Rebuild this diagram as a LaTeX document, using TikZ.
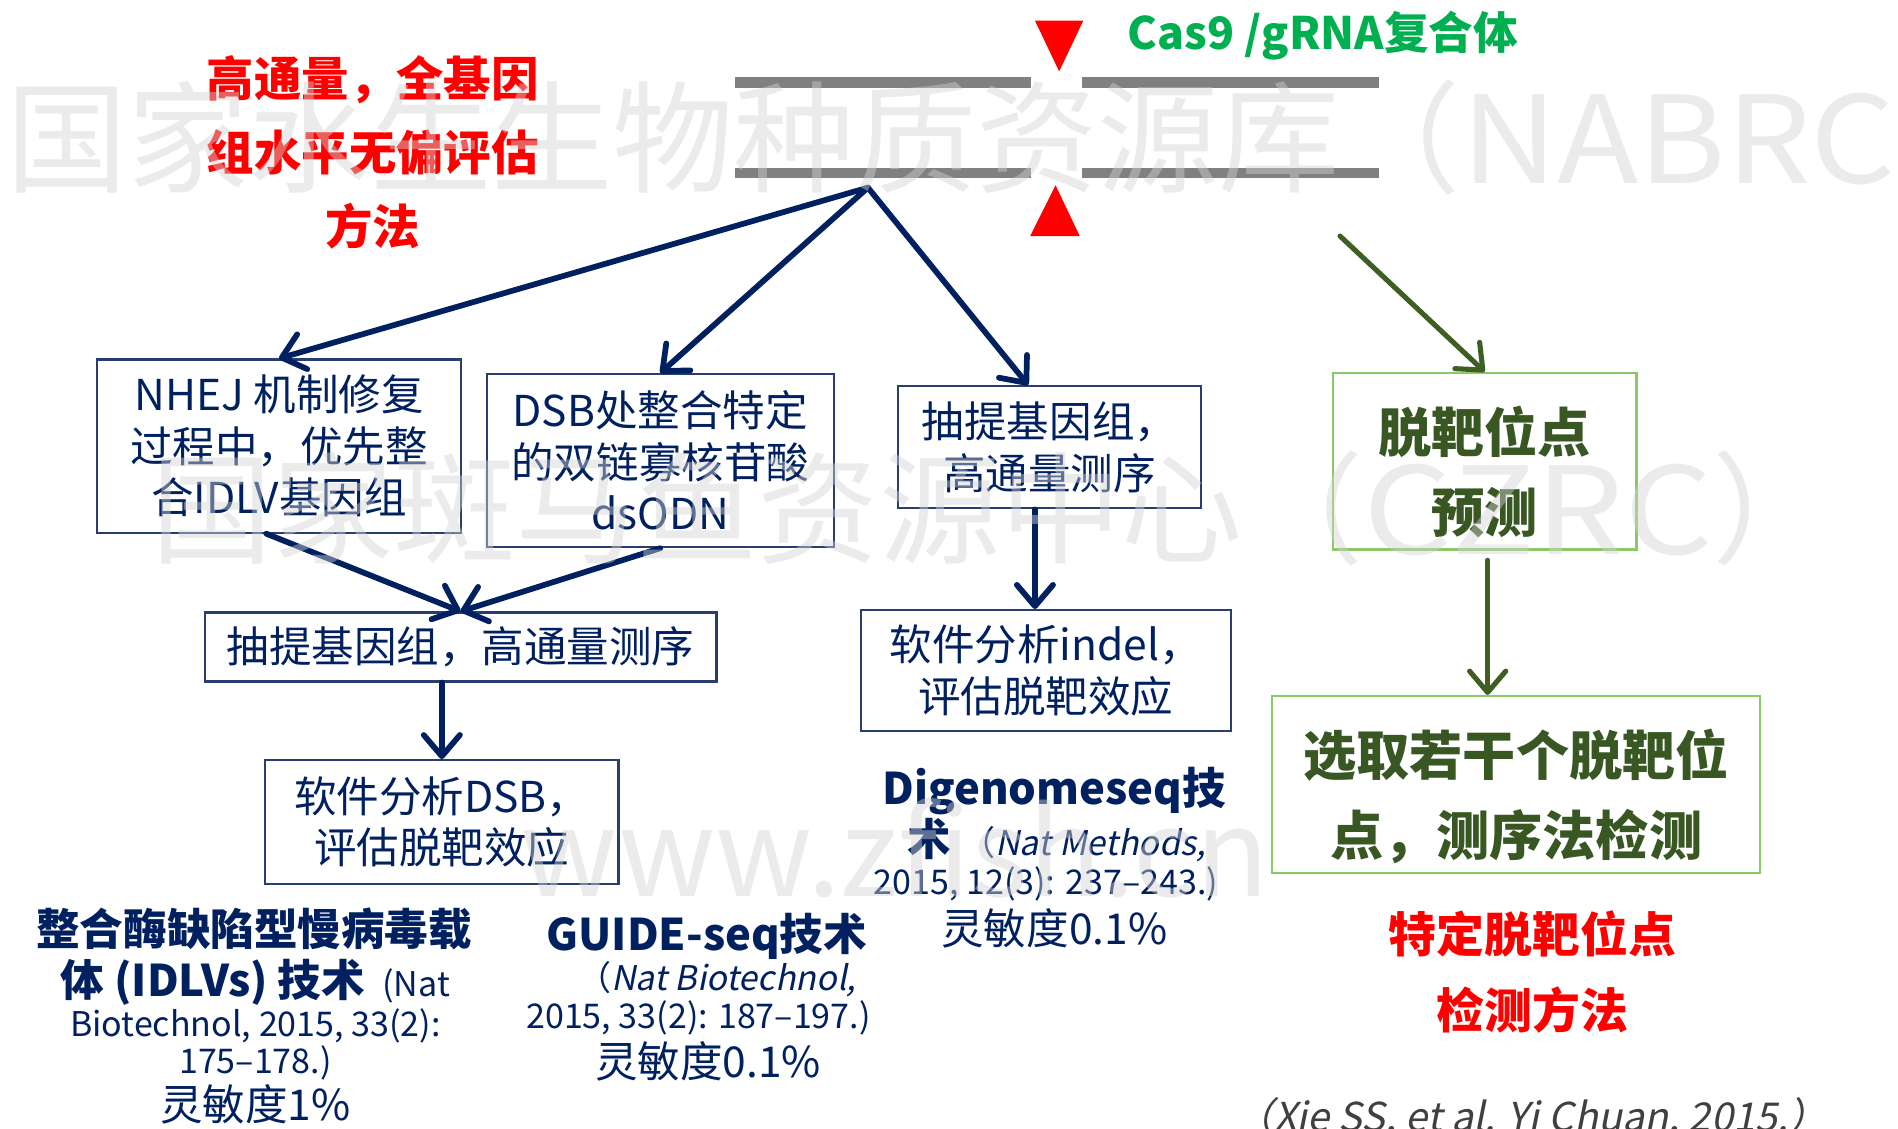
\documentclass[tikz,border=0pt]{standalone}
\usepackage{fontspec}
\setmainfont{Noto Sans CJK SC}
\newfontfamily\itfont{Noto Sans CJK SC}[FakeSlant=0.2]
\usetikzlibrary{arrows.meta,calc}
\definecolor{navy}{HTML}{002060}
\definecolor{boxnavy}{HTML}{2A3D70}
\definecolor{cgreen}{HTML}{00B050}
\definecolor{dgreen}{HTML}{385723}
\definecolor{lgreen}{HTML}{8CC866}
\definecolor{agreen}{HTML}{3E5F24}
\definecolor{bargray}{HTML}{808080}
\definecolor{wmgray}{HTML}{D2D2D2}
\tikzset{
  nbox/.style={draw=boxnavy, line width=1pt, text=navy, align=center, inner sep=0pt,
    font=\fontsize{20}{24.2}\selectfont},
  gbox/.style={draw=lgreen, line width=1pt, inner sep=0pt},
  gtext/.style={text=dgreen, align=center, inner sep=0pt,
    font=\fontsize{25}{37.6}\selectfont\bfseries},
  narrow/.style={draw=navy, line width=2.7pt, line cap=round,
    -{Straight Barb[length=10pt,width=17pt,round]}},
  garrow/.style={draw=agreen, line width=2.4pt, line cap=round,
    -{Straight Barb[length=10pt,width=17pt,round]}},
  bar/.style={draw=bargray, line width=5pt},
  hd/.style={text=navy, inner sep=0pt, anchor=base, font=\fontsize{20.5}{24}\selectfont\bfseries},
  reftxt/.style={text=navy, inner sep=0pt, anchor=base, font=\fontsize{16}{19}\selectfont},
  sens/.style={text=navy, inner sep=0pt, anchor=base, font=\fontsize{20}{24}\selectfont},
  redtxt/.style={text=red, inner sep=0pt, align=center, font=\fontsize{22.3}{34.9}\selectfont\bfseries},
  wm/.style={text=wmgray, text opacity=0.45, inner sep=0pt, anchor=base west,
    font=\fontsize{57}{60}\selectfont},
}
\begin{document}
\begin{tikzpicture}[x=0.02cm,y=-0.02cm]
\useasboundingbox (0,0) rectangle (1568,932);
% DNA double strand with cut
\draw[bar] (607,68.4) -- (852,68.4);
\draw[bar] (894,68.4) -- (1139,68.4);
\draw[bar] (607,142.8) -- (852,142.8);
\draw[bar] (894,142.8) -- (1139,142.8);
\fill[red] (855,17) -- (895,17) -- (875,59) -- cycle;
\fill[red] (851,195) -- (892,195) -- (872,153) -- cycle;
\node[text=cgreen, inner sep=0pt, anchor=base, font=\fontsize{21}{24}\selectfont\bfseries] (cas) at (1093,41) {Cas9 /gRNA复合体};
% title
\node[redtxt] (title) at (308,126) {高通量，全基因\\组水平无偏评估\\方法};
% navy boxes
\node[nbox, minimum width=6.02cm, minimum height=2.86cm] (b1) at (230.5,368.5) {NHEJ 机制修复\\过程中，优先整\\合IDLV基因组};
\node[nbox, minimum width=5.74cm, minimum height=2.86cm] (b2) at (545.5,380.5) {DSB处整合特定\\的双链寡核苷酸\\dsODN};
\node[nbox, minimum width=5.0cm, minimum height=2.02cm] (b3) at (867,369.5) {抽提基因组，\\高通量测序};
\node[nbox, minimum width=8.46cm, minimum height=1.14cm] (b4) at (380.5,534.5) {抽提基因组，高通量测序};
\node[nbox, minimum width=5.84cm, minimum height=2.04cm] (b5) at (365,679) {软件分析DSB，\\评估脱靶效应};
\node[nbox, minimum width=6.12cm, minimum height=2.0cm] (b6) at (864,554) {软件分析indel，\\评估脱靶效应};
% green boxes
\node[gbox, minimum width=5.02cm, minimum height=2.92cm] (g1) at (1226.5,381) {};
\node[gtext] (g1t) at (1226.5,390) {脱靶位点\\预测};
\node[gbox, minimum width=8.06cm, minimum height=2.92cm] (g2) at (1252.5,648) {};
\node[gtext] (g2t) at (1252.5,658) {选取若干个脱靶位\\点，测序法检测};
% navy arrows
\coordinate (split) at (717,155);
\draw[narrow] (split) -- (b1.north);
\draw[narrow] (split) -- (b2.north);
\draw[narrow] (split) -- ($(b3.north west)!0.43!(b3.north east)$);
\draw[narrow] ($(b1.south west)!0.465!(b1.south east)$) -- (b4.north);
\draw[narrow] (b2.south) -- (b4.north);
\draw[narrow] (b4.south -| b5.north) -- (b5.north);
\coordinate (b3o) at ($(b3.south)+(-12,0)$);
\draw[narrow] (b3o) -- (b3o |- b6.north);
% green arrows
\coordinate (gstart) at (1107,195);
\draw[garrow] (gstart) -- (g1.north);
\coordinate (g1o) at ($(g1.south)+(2.5,8)$);
\draw[garrow] (g1o) -- (g1o |- g2.north);
% IDLV block
\node[hd] (i1) at (210,781) {整合酶缺陷型慢病毒载};
\node[hd] (i2) at (211,823) {体 (IDLVs) 技术\, {\mdseries\fontsize{16}{19}\selectfont (Nat}};
\node[reftxt] (i3) at (211,856) {Biotechnol, 2015, 33(2):};
\node[reftxt] (i4) at (211,887) {175–178.)};
\node[sens] (i5) at (211,926) {灵敏度1\%};
% GUIDE-seq block
\node[hd] (u1) at (584,785) {GUIDE-seq技术};
\node[reftxt] (u2) at (592,818) {（{\itfont Nat Biotechnol,}};
\node[reftxt] (u3) at (577,850) {2015, 33(2): 187–197.)};
\node[sens] (u4) at (585,890) {灵敏度0.1\%};
% Digenome-seq block
\node[hd] (d1) at (871,665) {Digenomeseq技};
\node[hd] (d2) at (873,707) {术 {\mdseries\fontsize{16}{19}\selectfont （\itfont Nat Methods,}};
\node[reftxt] (d3) at (864,739) {2015, 12(3): 237–243.)};
\node[sens] (d4) at (871,780) {灵敏度0.1\%};
% red method label
\node[redtxt, font=\fontsize{22.5}{35.3}\selectfont\bfseries] (spec) at (1266,803) {特定脱靶位点\\检测方法};
% citation
\node[inner sep=0pt, anchor=base, text=black!75, font=\fontsize{18.7}{22}\selectfont\itfont] (cite) at (1265,935) {（Xie SS, et al. Yi Chuan, 2015.）};
% watermarks
\node[wm] (wm1) at (5,152) {国家水生生物种质资源库（\scalebox{1.1}[1]{NABRC}};
\node[wm] (wm2) at (125,458) {国家斑马鱼资源中心（\scalebox{1.15}[1]{CZRC}）};
\node[wm] (wm3) at (430,741) {www.zfish.cn};
\end{tikzpicture}
\end{document}
